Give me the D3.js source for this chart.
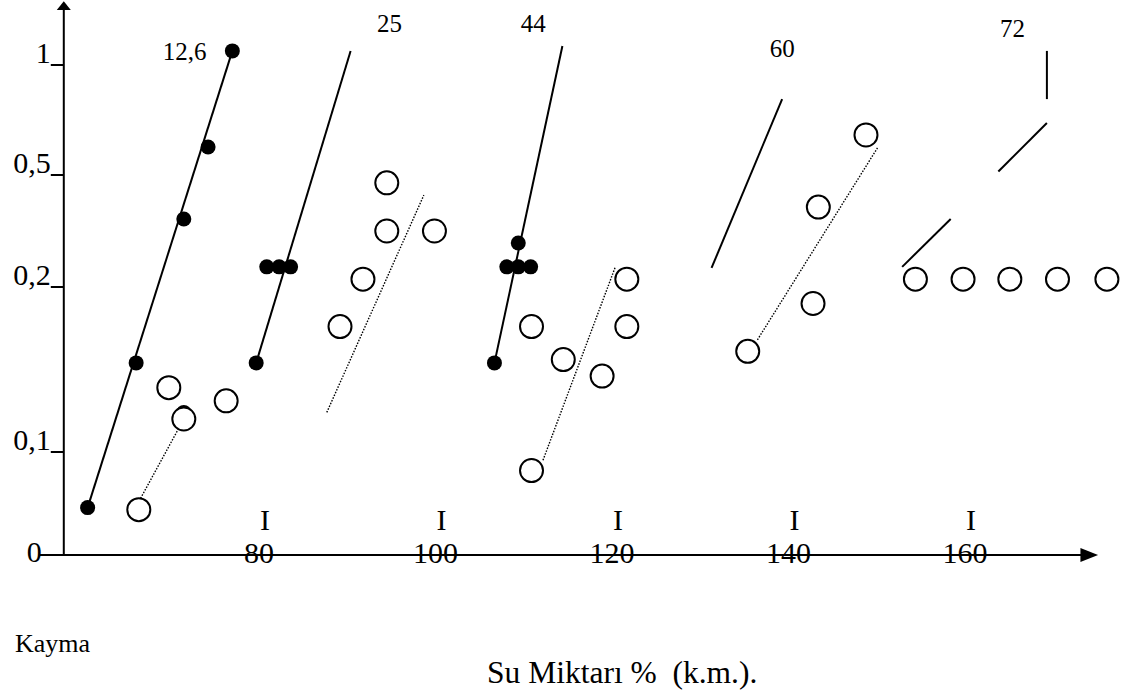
<!DOCTYPE html>
<html lang="tr">

<head>
    <meta charset="UTF-8">
    <title>Kayma - Su Miktarı</title>
    <script src="https://cdnjs.cloudflare.com/ajax/libs/d3/7.8.5/d3.min.js"></script>
    <style>
        body {
            margin: 0;
            background: #fff;
        }

        svg {
            display: block;
            font-family: "Liberation Serif", "Times New Roman", serif;
        }

        .axis {
            stroke: #000;
            stroke-width: 2;
            fill: none;
        }

        .solid {
            stroke: #000;
            stroke-width: 2;
            fill: none;
        }

        .dotted {
            stroke: #000;
            stroke-width: 1.4;
            stroke-dasharray: 1.5 1.5;
            fill: none;
        }

        .open {
            fill: #fff;
            stroke: #000;
            stroke-width: 2;
        }

        .filled {
            fill: #000;
        }
    </style>
</head>

<body>
    <div class="chart"></div>
    <script>
        // axis ticks
        const xTicks = [80, 100, 120, 140, 160];
        const yTicks = [0.1, 0.2, 0.5, 1];
        const yTickLabels = ['0,1', '0,2', '0,5', '1'];

        // filled dots (x = su miktari %, y = kayma)
        const filledX = [59.9, 65.4, 70.8, 73.55, 76.3, 79.0, 80.2, 81.6, 82.9, 70.8,
            106.0, 107.4, 108.7, 110.1, 108.7];
        const filledY = [0.046, 0.154, 0.382, 0.627, 1.064, 0.154, 0.254, 0.254, 0.254, 0.124,
            0.154, 0.254, 0.254, 0.254, 0.318];

        // open circles
        const openX = [65.7, 69.1, 70.8, 75.6,
            88.5, 91.1, 93.8, 93.8, 99.2,
            110.2, 110.2, 113.8, 118.2, 121.0, 121.0,
            134.7, 142.1, 142.7, 148.1,
            153.7, 159.1, 164.4, 169.8, 175.4];
        const openY = [0.044, 0.139, 0.120, 0.131,
            0.176, 0.221, 0.479, 0.35, 0.35,
            0.176, 0.082, 0.156, 0.146, 0.221, 0.176,
            0.161, 0.190, 0.414, 0.682,
            0.221, 0.221, 0.221, 0.221, 0.221];

        // solid lines, one [x0, y0, x1, y1] per segment
        const solidSegments = [
            [59.9, 0.046, 76.3, 1.064],
            [79.0, 0.154, 89.7, 1.064],
            [106.0, 0.154, 113.7, 1.086],
            [130.6, 0.251, 138.6, 0.845],
            [152.2, 0.254, 157.7, 0.382],
            [163.1, 0.516, 168.6, 0.736],
            [168.6, 0.845, 168.6, 1.064]
        ];

        // dotted lines
        const dottedSegments = [
            [65.9, 0.055, 70.8, 0.120],
            [87.0, 0.124, 98.0, 0.446],
            [111.5, 0.092, 119.7, 0.254],
            [135.8, 0.168, 149.4, 0.623]
        ];

        // line labels
        const lineLabels = ['12,6', '25', '44', '60', '72'];
        const lineLabelX = [70.9, 94.1, 110.4, 138.6, 164.7];
        const lineLabelY = [1.023, 1.15, 1.15, 1.036, 1.127];

        const width = 1125;
        const height = 695;

        const x = d3.scaleLinear().domain([80, 160]).range([265, 971]);
        // hand drawn vertical axis: piecewise
        const y = d3.scaleLinear()
            .domain([0, 0.1, 0.2, 0.5, 1])
            .range([555, 452, 287, 175, 65]);

        const svg = d3.select('.chart')
            .append('svg')
            .attr('width', width)
            .attr('height', height);

        const x0 = x(57.2);
        const y0 = y(0);

        // axes
        svg.append('line').attr('class', 'axis')
            .attr('x1', x0).attr('y1', y0 + 1)
            .attr('x2', x0).attr('y2', y(1.25));
        svg.append('path')
            .attr('d', d3.line()([[x0, y(1.29)], [x0 - 7, y(1.25)], [x0 + 7, y(1.25)]]))
            .attr('fill', '#000');

        svg.append('line').attr('class', 'axis')
            .attr('x1', x(54.5)).attr('y1', y0)
            .attr('x2', x(172.5)).attr('y2', y0);
        svg.append('path')
            .attr('d', d3.line()([[x(174.4), y0], [x(172.4), y0 - 7], [x(172.4), y0 + 7]]))
            .attr('fill', '#000');

        // y ticks like "0,5_"
        svg.selectAll('.ytick')
            .data(yTicks)
            .enter()
            .append('line')
            .attr('class', 'axis ytick')
            .attr('x1', x0 - 13).attr('x2', x0)
            .attr('y1', d => y(d)).attr('y2', d => y(d));

        svg.selectAll('.ylab')
            .data(yTicks)
            .enter()
            .append('text')
            .attr('class', 'ylab')
            .attr('x', x0 - 13)
            .attr('y', d => y(d) - 2)
            .attr('text-anchor', 'end')
            .attr('font-size', 30)
            .text((d, i) => yTickLabels[i]);

        svg.append('text')
            .attr('x', x0 - 22)
            .attr('y', y0 + 7)
            .attr('text-anchor', 'end')
            .attr('font-size', 30)
            .text('0');

        // x ticks: an "I" above and the number on the axis
        svg.selectAll('.xmark')
            .data(xTicks)
            .enter()
            .append('text')
            .attr('class', 'xmark')
            .attr('x', d => x(d))
            .attr('y', y0 - 25)
            .attr('text-anchor', 'middle')
            .attr('font-size', 30)
            .text('I');

        svg.selectAll('.xlab')
            .data(xTicks)
            .enter()
            .append('text')
            .attr('class', 'xlab')
            .attr('x', d => x(d) - 6)
            .attr('y', y0 + 8)
            .attr('text-anchor', 'middle')
            .attr('font-size', 30)
            .text(d => d);

        // lines
        svg.selectAll('.solid')
            .data(solidSegments)
            .enter()
            .append('line')
            .attr('class', 'solid')
            .attr('x1', d => x(d[0])).attr('y1', d => y(d[1]))
            .attr('x2', d => x(d[2])).attr('y2', d => y(d[3]));

        svg.selectAll('.dotted')
            .data(dottedSegments)
            .enter()
            .append('line')
            .attr('class', 'dotted')
            .attr('x1', d => x(d[0])).attr('y1', d => y(d[1]))
            .attr('x2', d => x(d[2])).attr('y2', d => y(d[3]));

        // points
        svg.selectAll('.filled')
            .data(filledX)
            .enter()
            .append('circle')
            .attr('class', 'filled')
            .attr('r', 7.5)
            .attr('cx', d => x(d))
            .attr('cy', (d, i) => y(filledY[i]));

        svg.selectAll('.open')
            .data(openX)
            .enter()
            .append('circle')
            .attr('class', 'open')
            .attr('r', 11.5)
            .attr('cx', d => x(d))
            .attr('cy', (d, i) => y(openY[i]));

        svg.selectAll('.linelab')
            .data(lineLabels)
            .enter()
            .append('text')
            .attr('class', 'linelab')
            .attr('x', (d, i) => x(lineLabelX[i]))
            .attr('y', (d, i) => y(lineLabelY[i]))
            .attr('text-anchor', 'middle')
            .attr('font-size', 25)
            .text(d => d);

        // titles
        svg.append('text')
            .attr('x', 15)
            .attr('y', 652)
            .attr('font-size', 26)
            .text('Kayma');

        svg.append('text')
            .attr('x', 487)
            .attr('y', 683)
            .attr('font-size', 31.5)
            .style('white-space', 'pre')
            .text('Su Miktarı %  (k.m.).');
    </script>
</body>

</html>
